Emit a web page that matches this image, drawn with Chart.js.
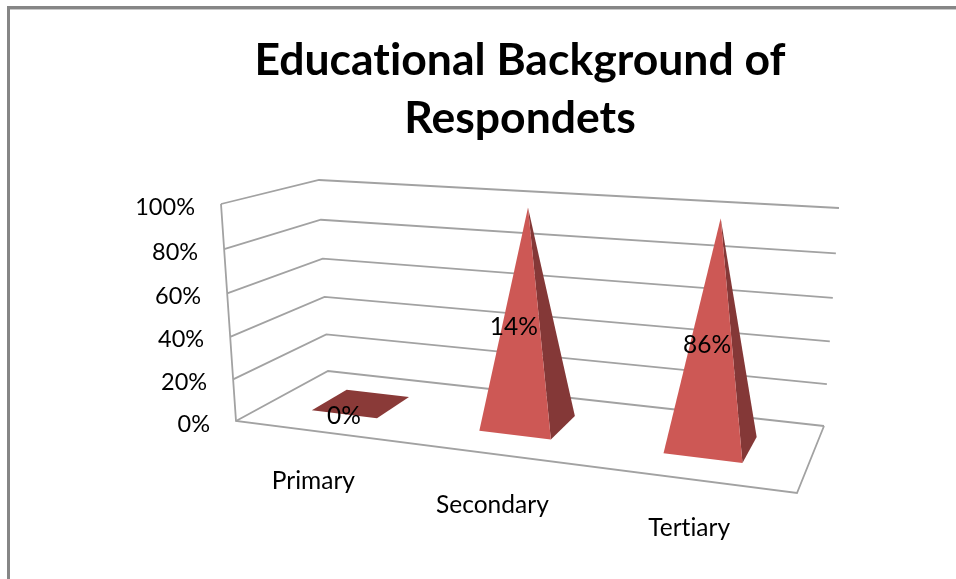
<!DOCTYPE html>
<html>
<head>
<meta charset="utf-8">
<title>Educational Background of Respondets</title>
<script src="https://cdn.jsdelivr.net/npm/chart.js@4/dist/chart.umd.min.js"></script>
<style>
html,body{margin:0;padding:0;background:#fff;overflow:hidden;}
canvas{display:block;}
</style>
</head>
<body>
<canvas id="chart" width="956" height="579"></canvas>
<script>
// DATA
const categories = ["Primary", "Secondary", "Tertiary"];
const pyramidHeights = [0, 100, 100];
const valueLabels = ["0%", "14%", "86%"];
const titleLines = ["Educational Background of", "Respondets"];
const FONT = "Lato, 'Open Sans', sans-serif";

// 3D box, screen corners of floor and ceiling [front-left, back-left, back-right, front-right]
const floorQuad = [[236,421],[328,371],[824,426],[797,493]];
const roofQuad = [[221,204],[319,180],[839,208],[832,240]];
const baseDepth = [0.30, 0.70];
const baseNudge = -0.0035;
const apexShift = [-12,1.5];
const catShift = [[-5,50],[-3,51],[-2,49]];
const labelShift = [[-19,12],[-16,-96],[-6,-100]];

// unit square -> quad, plain projective mapping
function makeMap(q){
    const [p0,p1,p2,p3]=[q[0],q[3],q[2],q[1]];
    const dx1=p1[0]-p2[0],dx2=p3[0]-p2[0],sx=p0[0]-p1[0]+p2[0]-p3[0];
    const dy1=p1[1]-p2[1],dy2=p3[1]-p2[1],sy=p0[1]-p1[1]+p2[1]-p3[1];
    const den=dx1*dy2-dx2*dy1;
    const g=(sx*dy2-dx2*sy)/den,h=(dx1*sy-sx*dy1)/den;
    const a=p1[0]-p0[0]+g*p1[0],b=p3[0]-p0[0]+h*p3[0];
    const d=p1[1]-p0[1]+g*p1[1],e=p3[1]-p0[1]+h*p3[1];
    return (u,v)=>{
        const w=g*u+h*v+1;
        return [(a*u+b*v+p0[0])/w,(d*u+e*v+p0[1])/w];
    };
}
const floorMap=makeMap(floorQuad), roofMap=makeMap(roofQuad);

// t across categories, d depth, s height share
function project(t,d,s){
    const a=floorMap(t,d), b=roofMap(t,d);
    // spacing on the walls gets a bit tighter towards the floor
    const h=s-0.05*s*(1-s);
    return [a[0]+(b[0]-a[0])*h, a[1]+(b[1]-a[1])*h];
}

function poly(ctx,pts,fill){
    ctx.beginPath();
    pts.forEach((p,i)=> i ? ctx.lineTo(p[0],p[1]) : ctx.moveTo(p[0],p[1]));
    ctx.closePath();
    ctx.fillStyle=fill;
    ctx.fill();
}

function stroke(ctx,pts){
    ctx.beginPath();
    pts.forEach((p,i)=> i ? ctx.lineTo(p[0],p[1]) : ctx.moveTo(p[0],p[1]));
    ctx.stroke();
}

const pyramid3d={
    id:"pyramid3d",
    beforeDraw(chart){
        const ctx=chart.ctx;
        // tiny spacing turns off Lato's "ti" ligature in the title
        ctx.letterSpacing="0.01px";
        ctx.save();
        // picture frame
        ctx.fillStyle="#c9c9c9";
        ctx.fillRect(9,9,947,1);
        ctx.fillStyle="#868686";
        ctx.fillRect(7,6,949,3);
        ctx.fillRect(7,6,3,573);
        ctx.restore();
    },
    afterDatasetsDraw(chart){
        const ctx=chart.ctx, area=chart.chartArea, x=chart.scales.x, y=chart.scales.y;
        const share=v=>(y.bottom-y.getPixelForValue(v))/(y.bottom-y.top);
        ctx.save();

        // walls and floor
        ctx.strokeStyle="#a2a2a2";
        ctx.lineWidth=1.8;
        y.ticks.forEach(tk=>{
            const s=share(tk.value);
            stroke(ctx,[project(0,0,s),project(0,1,s),project(1,1,s)]);
        });
        stroke(ctx,[project(0,0,1),project(0,0,0),project(1,0,0),project(1,1,0)]);

        // tick labels follow the slanted front edge
        ctx.fillStyle="#000";
        ctx.font="23.5px "+FONT;
        ctx.textAlign="right";
        ctx.textBaseline="middle";
        y.ticks.forEach(tk=>{
            const p=project(0,0,share(tk.value));
            ctx.fillText(tk.value+"%",p[0]-26,p[1]+3);
        });

        // pyramids, from the bar elements
        const bars=chart.getDatasetMeta(0).data;
        bars.forEach((bar,i)=>{
            const t=(bar.x-area.left)/(area.right-area.left)+baseNudge;
            const half=bar.width/2/(area.right-area.left);
            const s=(y.bottom-bar.y)/(y.bottom-y.top);
            const fl=project(t-half,baseDepth[0],0), fr=project(t+half,baseDepth[0],0);
            const br=project(t+half,baseDepth[1],0), bl=project(t-half,baseDepth[1],0);
            if(s===0){
                poly(ctx,[fl,fr,br,bl],"#8a3a38");
            }else{
                const top=project(t,(baseDepth[0]+baseDepth[1])/2,s);
                top[0]+=apexShift[0];
                top[1]+=apexShift[1];
                poly(ctx,[fr,br,top],"#843837");
                poly(ctx,[fl,fr,top],"#cd5855");
            }
        });

        // category labels under the front edge, value labels on the marks
        ctx.textAlign="center";
        ctx.fillStyle="#000";
        ctx.font="24.5px "+FONT;
        categories.forEach((c,i)=>{
            const t=(x.getPixelForValue(i)-area.left)/(area.right-area.left);
            const p=project(t,0,0);
            ctx.fillText(c,p[0]+catShift[i][0],p[1]+catShift[i][1]);
            const m=project(t,0.5,0);
            ctx.fillText(valueLabels[i],m[0]+labelShift[i][0],m[1]+labelShift[i][1]);
        });
        ctx.restore();
    }
};

new Chart(document.getElementById("chart"),{
    type:"bar",
    data:{
        labels:categories,
        datasets:[{
            data:pyramidHeights,
            backgroundColor:"transparent",
            categoryPercentage:0.4,
            barPercentage:1
        }]
    },
    options:{
        responsive:false,
        animation:false,
        layout:{padding:{left:240,right:156,top:0,bottom:158}},
        plugins:{
            legend:{display:false},
            tooltip:{enabled:false},
            title:{
                display:true,
                text:titleLines,
                color:"#000",
                font:{family:FONT,size:44.5,weight:"bold",lineHeight:1.3},
                padding:{top:32,bottom:20}
            }
        },
        scales:{
            x:{display:false},
            y:{display:false,min:0,max:100,ticks:{stepSize:20}}
        }
    },
    plugins:[pyramid3d]
});
</script>
</body>
</html>
